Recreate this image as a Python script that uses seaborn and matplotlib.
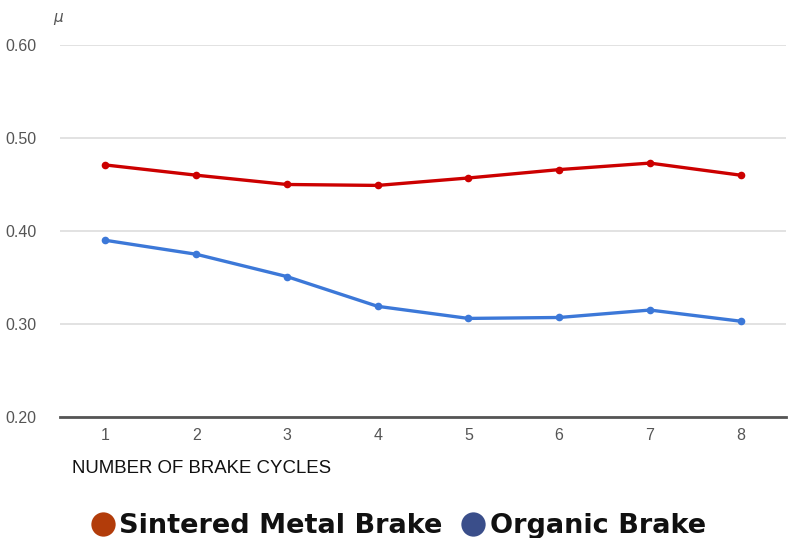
import pandas as pd
import matplotlib
matplotlib.use("Agg")
import matplotlib.pyplot as plt
import seaborn as sns
from matplotlib.lines import Line2D

cycles = [1, 2, 3, 4, 5, 6, 7, 8]
sintered = [0.471, 0.460, 0.450, 0.449, 0.457, 0.466, 0.473, 0.460]
organic = [0.390, 0.375, 0.351, 0.319, 0.306, 0.307, 0.315, 0.303]
series_names = ["Sintered Metal Brake", "Organic Brake"]
line_colors = ["#cc0000", "#3c78d8"]
legend_colors = ["#b23c0a", "#3a4e8a"]
y_ticks = [0.20, 0.30, 0.40, 0.50, 0.60]

df = pd.DataFrame({
    "cycle": cycles * 2,
    "mu": sintered + organic,
    "brake": [series_names[0]] * len(cycles) + [series_names[1]] * len(cycles),
})

sns.set_theme(style="white")
plt.rcParams["font.family"] = ["Liberation Sans", "DejaVu Sans"]

fig = plt.figure(figsize=(7.92, 5.38), dpi=100)
ax = fig.add_axes([0.0758, 0.2249, 0.9166, 0.6915])

sns.lineplot(data=df, x="cycle", y="mu", hue="brake", palette=line_colors,
             marker="o", markersize=5.5, markeredgewidth=0, linewidth=2.4,
             legend=False, ax=ax)

ax.set_xlim(0.5, 8.5)
ax.set_ylim(0.2, 0.6)
ax.set_xticks(cycles)
ax.set_yticks(y_ticks)
ax.set_yticklabels([f"{v:.2f}" for v in y_ticks])
ax.grid(axis="y", color="#dddddd", linewidth=1.2)
ax.set_axisbelow(True)
for s in ["top", "right", "left"]:
    ax.spines[s].set_visible(False)
ax.spines["bottom"].set_color("#555555")
ax.spines["bottom"].set_linewidth(2)
ax.tick_params(axis="both", length=0, labelsize=11.5, colors="#555555")
ax.tick_params(axis="x", pad=8)
ax.tick_params(axis="y", pad=17)
ax.set_xlabel("")
ax.set_ylabel("")

fig.text(0.067, 0.960, "μ", fontsize=11, style="italic", color="#555555",
         family=["DejaVu Sans"])
fig.text(0.091, 0.12, "NUMBER OF BRAKE CYCLES", fontsize=13.4, color="#111111")

handles = [Line2D([], [], linestyle="none", marker="o", markersize=17.5,
                  markerfacecolor=c, markeredgewidth=0) for c in legend_colors]
leg = fig.legend(handles, series_names, loc="center", bbox_to_anchor=(0.5, 0.022),
                 ncol=2, frameon=False, handletextpad=0.0, columnspacing=0.55,
                 handlelength=1.2,
                 prop={"family": "DejaVu Sans", "weight": "bold", "size": 19.5})
for t in leg.get_texts():
    t.set_color("#111111")

fig.savefig("out.png", dpi=100)
